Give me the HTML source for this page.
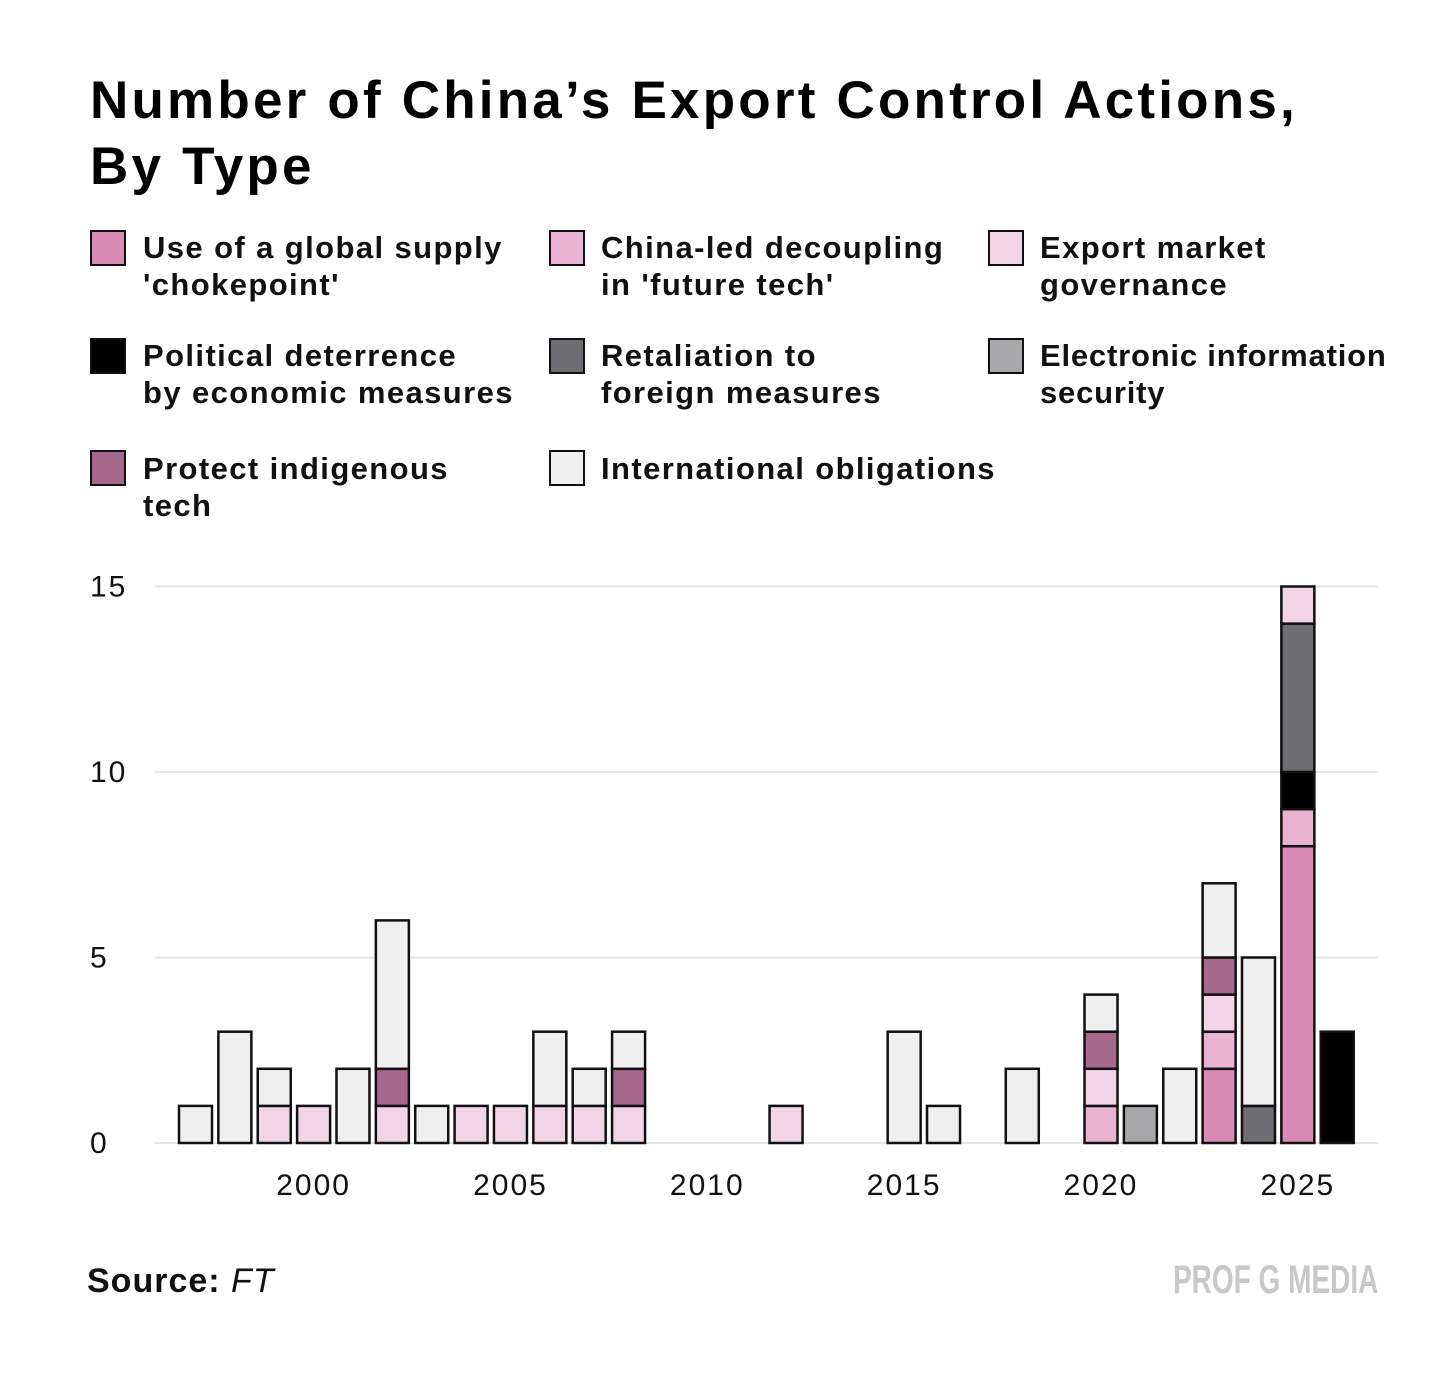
<!DOCTYPE html>
<html><head><meta charset="utf-8"><style>
body{margin:0;background:#fff;width:1456px;height:1375px;overflow:hidden;font-family:"Liberation Sans",sans-serif;}
.t{position:absolute;left:90px;top:68px;font-size:53px;font-weight:bold;line-height:66px;color:#000;letter-spacing:3.2px;white-space:nowrap}
.lg{position:absolute;font-size:31px;font-weight:bold;line-height:37px;color:#111;letter-spacing:1.4px;white-space:nowrap}
.sw{position:absolute;width:32px;height:32px;border:2px solid #111}
svg{position:absolute;left:0;top:0}
</style></head><body>
<div class="t">Number of China’s Export Control Actions,<br>By Type</div>
<div>
<div class="sw" style="left:90px;top:230px;background:#d98ab5"></div>
<div class="lg" style="left:143px;top:229px">Use of a global supply<br>'chokepoint'</div>
<div class="sw" style="left:549px;top:230px;background:#e8b2d0"></div>
<div class="lg" style="left:601px;top:229px">China-led decoupling<br>in 'future tech'</div>
<div class="sw" style="left:988px;top:230px;background:#f2d5e4"></div>
<div class="lg" style="left:1040px;top:229px">Export market<br>governance</div>
<div class="sw" style="left:90px;top:338px;background:#000"></div>
<div class="lg" style="left:143px;top:337px">Political deterrence<br>by economic measures</div>
<div class="sw" style="left:549px;top:338px;background:#6e6e72"></div>
<div class="lg" style="left:601px;top:337px">Retaliation to<br>foreign measures</div>
<div class="sw" style="left:988px;top:338px;background:#a8a8ab"></div>
<div class="lg" style="left:1040px;top:337px;letter-spacing:0.8px">Electronic information<br>security</div>
<div class="sw" style="left:90px;top:450px;background:#a6688a"></div>
<div class="lg" style="left:143px;top:450px">Protect indigenous<br>tech</div>
<div class="sw" style="left:549px;top:450px;background:#efefef"></div>
<div class="lg" style="left:601px;top:450px">International obligations</div>
</div>
<svg id="chart" width="1456" height="1375"></svg>
<div style="position:absolute;left:87px;top:1262px;font-size:34px;color:#111;letter-spacing:1px"><b>Source:</b> <i>FT</i></div>
<div style="position:absolute;right:78px;top:1258px;font-size:40px;font-weight:bold;color:#c8c8c8;transform:scaleX(0.7);transform-origin:right;white-space:nowrap">PROF G MEDIA</div>
<script>
const years=[1997,1998,1999,2000,2001,2002,2003,2004,2005,2006,2007,2008,2012,2015,2016,2018,2020,2021,2022,2023,2024,2025,2026];
const chokepoint=[0,0,0,0,0,0,0,0,0,0,0,0,0,0,0,0,0,0,0,2,0,8,0];
const decoupling=[0,0,0,0,0,0,0,0,0,0,0,0,0,0,0,0,1,0,0,1,0,1,0];
const political=[0,0,0,0,0,0,0,0,0,0,0,0,0,0,0,0,0,0,0,0,0,1,3];
const retaliation=[0,0,0,0,0,0,0,0,0,0,0,0,0,0,0,0,0,0,0,0,1,4,0];
const exportMarket=[0,0,1,1,0,1,0,1,1,1,1,1,1,0,0,0,1,0,0,1,0,1,0];
const electronic=[0,0,0,0,0,0,0,0,0,0,0,0,0,0,0,0,0,1,0,0,0,0,0];
const protect=[0,0,0,0,0,1,0,0,0,0,0,1,0,0,0,0,1,0,0,1,0,0,0];
const international=[1,3,1,0,2,4,1,0,0,2,1,1,0,3,1,2,1,0,2,2,4,0,0];
const yTicks=[0,5,10,15];
const xTicks=[2000,2005,2010,2015,2020,2025];
const series=[["chokepoint",chokepoint,"#d98ab5"],["decoupling",decoupling,"#e8b2d0"],["political",political,"#000"],["retaliation",retaliation,"#6e6e72"],["export-market",exportMarket,"#f2d5e4"],["electronic",electronic,"#a8a8ab"],["protect",protect,"#a6688a"],["international",international,"#efefef"]];
const svg=document.getElementById('chart');const NS='http://www.w3.org/2000/svg';
const y=v=>1143-v*37.1;const x=yr=>195.5+(yr-1997)*39.37;
function mk(t,a){const e=document.createElementNS(NS,t);for(const k in a)e.setAttribute(k,a[k]);svg.appendChild(e);return e;}
yTicks.forEach(v=>{
const g=mk('line',{x1:155,x2:1378,y1:y(v),y2:y(v),stroke:'#e6e6e6','stroke-width':2});


const t=mk('text',{x:90,y:y(v)+10,'font-size':30,'letter-spacing':2,fill:'#111','font-family':'Liberation Sans'});t.textContent=v;


});
xTicks.forEach(v=>{
const t=mk('text',{x:x(v),y:1195,'font-size':30,'letter-spacing':2,fill:'#111','text-anchor':'middle','font-family':'Liberation Sans'});t.textContent=v;


});
years.forEach((yr,i)=>{let base=0;series.forEach(([n,arr,c])=>{const v=arr[i];if(!v)return;
const r=mk('rect',{x:x(yr)-16.5,y:y(base+v),width:33,height:v*37.1,fill:c,stroke:'#111','stroke-width':2.5});


base+=v;});});
</script>
</body></html>
